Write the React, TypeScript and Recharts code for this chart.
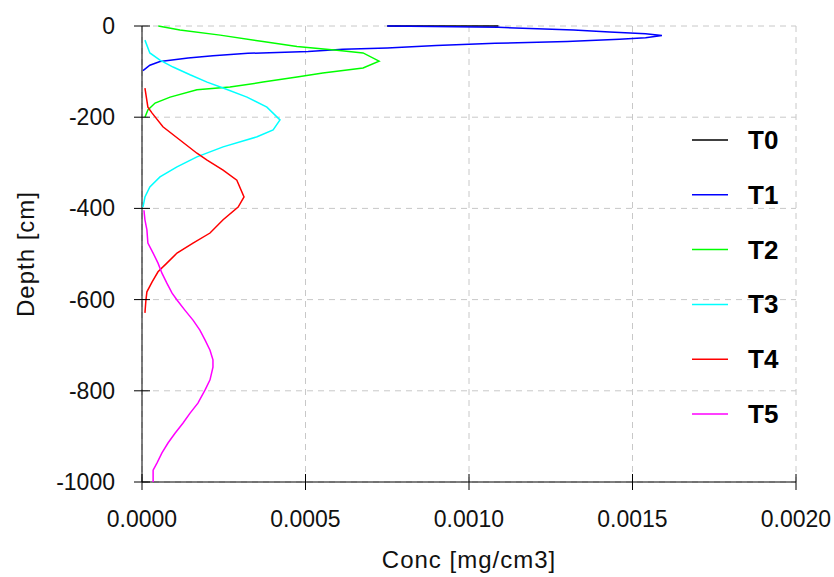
import { ScatterChart, Scatter, XAxis, YAxis, CartesianGrid, Legend } from "recharts";

// [conc mg/cm3, depth cm]
const T0 = [
  [0.00075, 0],
  [0.00109, 0],
];
const T1 = [
  [0.00075, 0], [0.00109, -3], [0.00132, -9], [0.00143, -13], [0.00154, -17], [0.00159, -21],
  [0.00154, -26], [0.00146, -29], [0.0013, -34], [0.00108, -38], [0.0009, -43], [0.00075, -48],
  [0.000615, -51], [0.000508, -56], [0.000324, -60], [0.000217, -65], [0.000141, -70],
  [0.000086, -75], [0.000055, -78], [0.000024, -86], [0.000003, -98],
];
const T2 = [
  [0.00005, 0], [0.000116, -9], [0.000239, -20], [0.00037, -34], [0.000474, -45], [0.000596, -53],
  [0.000676, -59], [0.000725, -77], [0.000676, -92], [0.000553, -103], [0.000474, -112],
  [0.00037, -123], [0.000269, -134], [0.000168, -140], [0.000086, -156], [0.00004, -169],
  [0.000018, -184], [0.000009, -200],
];
const T3 = [
  [0.000009, -31], [0.000024, -59], [0.000055, -75], [0.000095, -90], [0.000147, -107],
  [0.000199, -123], [0.000248, -136], [0.000321, -156], [0.000382, -178], [0.000422, -206],
  [0.000401, -228], [0.000352, -243], [0.000248, -265], [0.000168, -287], [0.000107, -309],
  [0.000055, -331], [0.000024, -353], [0.000009, -375], [0.000003, -397],
];
const T4 = [
  [0.000009, -136], [0.000018, -178], [0.000031, -191], [0.000064, -221], [0.000116, -250],
  [0.000168, -279], [0.000199, -294], [0.000248, -316], [0.00029, -338], [0.000312, -375],
  [0.000294, -397], [0.000248, -425], [0.000208, -454], [0.000156, -476], [0.000107, -498],
  [0.000076, -520], [0.000049, -539], [0.000031, -561], [0.000015, -583], [0.000012, -601],
  [0.000009, -629],
];
const T5 = [
  [0.000006, -404], [0.000009, -425], [0.000015, -447], [0.000018, -476], [0.000034, -498],
  [0.000049, -520], [0.000061, -542], [0.000076, -564], [0.000092, -586], [0.000107, -601],
  [0.000131, -623], [0.000156, -645], [0.000177, -667], [0.000193, -689], [0.000208, -711],
  [0.000217, -732], [0.000217, -748], [0.000208, -776], [0.000193, -798], [0.000171, -827],
  [0.000147, -849], [0.000125, -871], [0.000101, -893], [0.00008, -914], [0.000061, -936],
  [0.000046, -958], [0.000034, -974], [0.000034, -1000],
];

const NAMES = ["T0", "T1", "T2", "T3", "T4", "T5"];
const COLORS = ["#000000", "#0000ff", "#00ff00", "#00ffff", "#ff0000", "#ff00ff"];
const SERIES = [T0, T1, T2, T3, T4, T5];

const X_TICKS = [0, 0.0005, 0.001, 0.0015, 0.002];
const Y_TICKS = [0, -200, -400, -600, -800, -1000];

const FONT = "'Liberation Sans', Arial, sans-serif";

const BottomTick = ({ x, y, payload }: any) => (
  <g>
    <line x1={x} x2={x} y1={y - 8} y2={y + 8} stroke="#000" />
    <text x={x} y={y + 45} textAnchor="middle" fontSize={23} fontFamily={FONT} fill="#111">
      {Number(payload.value).toFixed(4)}
    </text>
  </g>
);

const TopTick = ({ x, y }: any) => <line x1={x} x2={x} y1={y - 8} y2={y + 8} stroke="#000" />;

const LeftTick = ({ x, y, payload }: any) => (
  <g>
    <line x1={x - 8} x2={x + 8} y1={y} y2={y} stroke="#000" />
    <text x={x - 27} y={y + 8} textAnchor="end" fontSize={23} fontFamily={FONT} fill="#111">
      {payload.value}
    </text>
  </g>
);

const LegendBox = () => (
  <svg width={140} height={340}>
    {NAMES.map((n, i) => {
      const cy = 28 + i * 54.8;
      return (
        <g key={n}>
          <line x1={7} x2={43} y1={cy} y2={cy} stroke={COLORS[i]} strokeWidth={1.5} />
          <text x={63} y={cy + 9} fontSize={26} fontWeight="bold" fontFamily={FONT} fill="#000">
            {n}
          </text>
        </g>
      );
    })}
  </svg>
);

export default function App() {
  return (
    <div style={{ position: "absolute", left: 0, top: 0, background: "#fff" }}>
      <ScatterChart width={834} height={577} margin={{ top: 26, right: 38, bottom: 0, left: 0 }}>
        <CartesianGrid stroke="#c8c8c8" strokeDasharray="6 5" />
        <XAxis
          type="number"
          dataKey="c"
          domain={[0, 0.002]}
          ticks={X_TICKS}
          interval={0}
          height={95}
          tickSize={0}
          tickMargin={0}
          tickLine={false}
          axisLine={{ stroke: "#000" }}
          tick={<BottomTick />}
          label={{
            value: "Conc [mg/cm3]",
            position: "insideBottom",
            offset: 9,
            style: { fontSize: 24, fontFamily: FONT, fill: "#111", letterSpacing: 1 },
          }}
        />
        <XAxis
          xAxisId="top"
          orientation="top"
          type="number"
          domain={[0, 0.002]}
          ticks={X_TICKS}
          interval={0}
          height={0}
          tickSize={0}
          tickMargin={0}
          tickLine={false}
          axisLine={{ stroke: "#000" }}
          tick={<TopTick />}
        />
        <YAxis
          type="number"
          dataKey="d"
          domain={[-1000, 0]}
          ticks={Y_TICKS}
          interval={0}
          width={142}
          tickSize={0}
          tickMargin={0}
          tickLine={false}
          axisLine={{ stroke: "#000" }}
          tick={<LeftTick />}
          label={{
            value: "Depth [cm]",
            angle: -90,
            position: "insideLeft",
            offset: 25,
            style: { fontSize: 24, fontFamily: FONT, fill: "#111", letterSpacing: 1, textAnchor: "middle" },
          }}
        />
        <Legend
          layout="vertical"
          align="center"
          verticalAlign="middle"
          wrapperStyle={{ left: 685, top: 112, width: 140, height: 340 }}
          content={() => <LegendBox />}
        />
        {SERIES.map((s, i) => (
          <Scatter
            key={NAMES[i]}
            name={NAMES[i]}
            data={s.map(([c, d]) => ({ c, d }))}
            fill={COLORS[i]}
            line={{ stroke: COLORS[i], strokeWidth: 1.5 }}
            shape={() => <g />}
            isAnimationActive={false}
          />
        ))}
      </ScatterChart>
    </div>
  );
}
